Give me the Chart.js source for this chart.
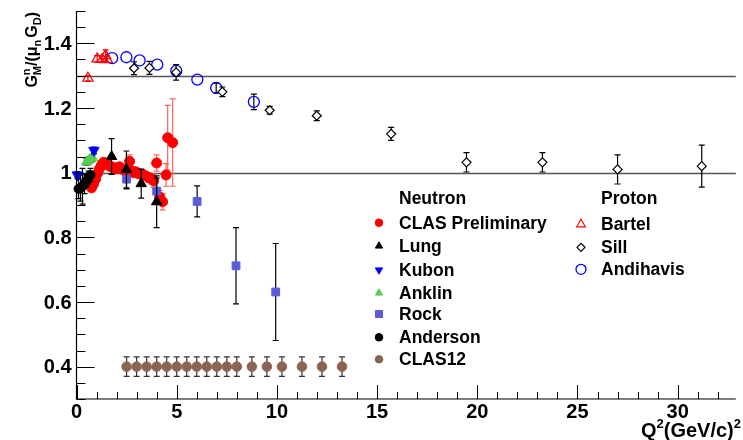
<!DOCTYPE html>
<html><head><meta charset="utf-8">
<script src="https://cdn.jsdelivr.net/npm/chart.js@4.4.0/dist/chart.umd.min.js"></script>
<style>html,body{margin:0;padding:0;background:#fff;}#c{display:block;}</style>
</head><body>
<canvas id="c" width="743" height="440"></canvas>
<script>
// ---------- data ----------
const clasPrelimQ2  = [0.75,0.85,0.95,1.05,1.15,1.25,1.35,1.45,1.55,1.65,1.75,1.85,1.95,2.05,2.15,2.25,2.35,2.45,2.6,2.65,2.75,2.85,2.95,3.05,3.15,3.3,3.45,3.6,3.75,3.85,4.0,4.15,4.3,4.47,4.55,4.8];
const clasPrelimR   = [0.953,0.965,0.98,0.998,1.012,1.024,1.032,1.03,1.025,1.02,1.018,1.014,1.012,1.016,1.018,1.012,1.008,1.004,1.0,1.035,1.005,1.0,1.003,0.998,0.996,0.995,0.99,0.985,0.98,0.975,1.03,0.925,0.91,0.993,1.108,1.093];
const clasPrelimErr = [0.01,0.01,0.01,0.01,0.01,0.01,0.01,0.01,0.01,0.01,0.01,0.01,0.01,0.01,0.01,0.01,0.01,0.01,0.01,0.02,0.01,0.01,0.01,0.01,0.01,0.012,0.012,0.015,0.015,0.02,0.025,0.02,0.025,0.035,0.1,0.135];

const lungQ2  = [1.75,2.49,3.23,4.0];
const lungR   = [1.05,1.01,0.966,0.91];
const lungErr = [0.055,0.057,0.045,0.08];

const kubonQ2  = [0.04,0.87];
const kubonR   = [0.993,1.069];
const kubonErr = [0.01,0.01];

const anklinQ2  = [0.5,0.65,0.8];
const anklinR   = [1.033,1.04,1.046];
const anklinErr = [0.01,0.01,0.01];

const rockQ2  = [2.5,4.0,6.02,7.96,9.94];
const rockR   = [0.98,0.943,0.911,0.712,0.631];
const rockErr = [0.03,0.04,0.048,0.118,0.15];

const andersonQ2  = [0.1,0.2,0.3,0.4,0.5,0.6,0.7];
const andersonR   = [0.95,0.952,0.958,0.965,0.975,0.985,0.993];
const andersonErr = [0.03,0.04,0.055,0.03,0.02,0.02,0.02];

const clas12Q2  = [2.5,3.0,3.5,4.0,4.5,5.0,5.5,6.0,6.5,7.0,7.5,8.0,8.75,9.5,10.25,11.25,12.25,13.25];
const clas12R   = [0.4,0.4,0.4,0.4,0.4,0.4,0.4,0.4,0.4,0.4,0.4,0.4,0.4,0.4,0.4,0.4,0.4,0.4];
const clas12Err = [0.03,0.03,0.03,0.03,0.03,0.03,0.03,0.03,0.03,0.03,0.03,0.03,0.03,0.03,0.03,0.03,0.03,0.03];

const bartelQ2  = [0.57,1.03,1.28,1.45,1.53];
const bartelR   = [1.292,1.352,1.35,1.362,1.35];
const bartelErr = [0.008,0.01,0.01,0.018,0.01];

const sillQ2  = [2.87,3.64,4.97,7.28,9.64,11.99,15.7,19.46,23.25,27.0,31.2];
const sillR   = [1.323,1.324,1.31,1.25,1.193,1.176,1.12,1.032,1.032,1.01,1.02];
const sillErr = [0.02,0.02,0.024,0.015,0.012,0.015,0.02,0.03,0.03,0.045,0.065];

const andihavisQ2  = [1.78,2.49,3.15,4.03,4.98,6.03,6.97,8.85];
const andihavisR   = [1.354,1.357,1.347,1.334,1.315,1.288,1.262,1.219];
const andihavisErr = [0,0,0,0,0,0,0.015,0.024];

const xTickValues = [0,5,10,15,20,25,30];
const xTickLabels = ['0','5','10','15','20','25','30'];
const yTickValues = [0.4,0.6,0.8,1.0,1.2,1.4];
const yTickLabels = ['0.4','0.6','0.8','1','1.2','1.4'];
const refLines = [1.0, 1.3];
const neutronHeader = "Neutron";
const protonHeader = "Proton";

// ---------- helpers ----------
const pts = (xs, ys) => xs.map((x, i) => ({x: x, y: ys[i]}));
const FONT = "'Liberation Sans', Arial, Helvetica, sans-serif";

function ds(label, group, xs, ys, errs, o) {
  return Object.assign({
    label: label, group: group, data: pts(xs, ys), errs: errs,
    showLine: false, borderWidth: 1, pointBorderWidth: 1, pointHoverRadius: 0,
    errColor: '#000', clip: false
  }, o);
}

const datasets = [
  ds('CLAS Preliminary','n', clasPrelimQ2, clasPrelimR, clasPrelimErr,
     {pointStyle:'circle', pointRadius:5, backgroundColor:'#ff0000', borderColor:'#ff0000', errColor:'#ff6262', order:6, legR:3.8}),
  ds('Lung','n', lungQ2, lungR, lungErr,
     {pointStyle:'triangle', pointRadius:6, backgroundColor:'#000', borderColor:'#000', order:1, legR:4.2}),
  ds('Kubon','n', kubonQ2, kubonR, kubonErr,
     {pointStyle:'triangle', rotation:180, pointRotation:180, pointRadius:6, backgroundColor:'#0000ff', borderColor:'#0000ff', order:3, legR:4.2}),
  ds('Anklin','n', anklinQ2, anklinR, anklinErr,
     {pointStyle:'triangle', pointRadius:6, backgroundColor:'#55cc55', borderColor:'#55cc55', order:4, legR:4.2}),
  ds('Rock','n', rockQ2, rockR, rockErr,
     {pointStyle:'rect', pointRadius:5.5, backgroundColor:'#5b5bdc', borderColor:'#5b5bdc', order:2, legR:5}),
  ds('Anderson','n', andersonQ2, andersonR, andersonErr,
     {pointStyle:'circle', pointRadius:4.5, backgroundColor:'#000', borderColor:'#000', order:5, legR:3.8}),
  ds('CLAS12','n', clas12Q2, clas12R, clas12Err,
     {pointStyle:'circle', pointRadius:4.8, backgroundColor:'#8b6553', borderColor:'#8b6553', errColor:'#333', order:7, legR:3.8}),
  ds('Bartel','p', bartelQ2, bartelR, bartelErr,
     {pointStyle:'triangle', pointRadius:6, backgroundColor:'rgba(0,0,0,0)', borderColor:'#ff0000', pointBorderWidth:1.2, errColor:'#ff0000', order:8, legR:5}),
  ds('Sill','p', sillQ2, sillR, sillErr,
     {pointStyle:'rectRot', pointRadius:4.5, backgroundColor:'#fff', borderColor:'#000', pointBorderWidth:1.2, order:9, legR:4}),
  ds('Andihavis','p', andihavisQ2, andihavisR, andihavisErr,
     {pointStyle:'circle', pointRadius:5.5, backgroundColor:'rgba(0,0,0,0)', borderColor:'#0000ff', pointBorderWidth:1.3, order:10, legR:5})
];

// ---------- plugins ----------
const framePlugin = {
  id: 'frame',
  beforeDatasetsDraw(chart) {
    const ctx = chart.ctx, a = chart.chartArea, ys = chart.scales.y;
    ctx.save();
    ctx.strokeStyle = '#555'; ctx.lineWidth = 1.5;
    refLines.forEach(v => {
      const p = Math.round(ys.getPixelForValue(v)) + 0.5;
      ctx.beginPath(); ctx.moveTo(a.left, p); ctx.lineTo(a.right, p); ctx.stroke();
    });
    ctx.restore();
  },
  beforeDatasetDraw(chart, args) {
    const d = chart.data.datasets[args.index];
    if (!d.errs) return;
    const ctx = chart.ctx, xs = chart.scales.x, ys = chart.scales.y;
    ctx.save();
    ctx.strokeStyle = d.errColor; ctx.lineWidth = 1.2;
    d.data.forEach((p, i) => {
      const e = d.errs[i];
      if (!e) return;
      const px = xs.getPixelForValue(p.x);
      const y1 = ys.getPixelForValue(p.y + e), y2 = ys.getPixelForValue(p.y - e);
      ctx.beginPath();
      ctx.moveTo(px, y1); ctx.lineTo(px, y2);
      ctx.moveTo(px - 3, y1); ctx.lineTo(px + 3, y1);
      ctx.moveTo(px - 3, y2); ctx.lineTo(px + 3, y2);
      ctx.stroke();
    });
    ctx.restore();
  },
  afterDraw(chart) {
    const ctx = chart.ctx, a = chart.chartArea, xs = chart.scales.x, ys = chart.scales.y;
    ctx.save();
    // axes
    ctx.strokeStyle = '#000'; ctx.lineWidth = 1.2;
    ctx.beginPath();
    ctx.moveTo(a.left, a.top); ctx.lineTo(a.left, a.bottom); ctx.lineTo(a.right, a.bottom);
    ctx.stroke();
    ctx.lineWidth = 1;
    // y ticks
    for (let k = 0; k <= 24; k++) {
      const v = 0.3 + k * 0.05;
      const p = Math.round(ys.getPixelForValue(v)) + 0.5;
      const major = yTickValues.some(t => Math.abs(t - v) < 1e-6);
      ctx.beginPath(); ctx.moveTo(a.left, p); ctx.lineTo(a.left + (major ? 18 : 9), p); ctx.stroke();
    }
    // x ticks
    for (let k = 0; k <= 32; k++) {
      const p = Math.round(xs.getPixelForValue(k)) + 0.5;
      const major = k % 5 === 0;
      ctx.beginPath(); ctx.moveTo(p, a.bottom); ctx.lineTo(p, a.bottom - (major ? 14 : 7)); ctx.stroke();
    }
    // tick labels
    ctx.fillStyle = '#000';
    ctx.font = 'bold 20px ' + FONT;
    ctx.textAlign = 'right'; ctx.textBaseline = 'middle';
    yTickValues.forEach((v, i) => ctx.fillText(yTickLabels[i], a.left - 5, ys.getPixelForValue(v) + 1));
    ctx.textAlign = 'center';
    xTickValues.forEach((v, i) => ctx.fillText(xTickLabels[i], xs.getPixelForValue(v), a.bottom + 13));
    ctx.textAlign = 'left';

    // axis titles
    ctx.textBaseline = 'alphabetic';
    function runsWidth(runs) {
      let w = 0;
      runs.forEach(r => {
        if (r.stack) {
          ctx.font = r.f;
          w += Math.max(ctx.measureText(r.stack[0]).width, ctx.measureText(r.stack[1]).width);
        } else { ctx.font = r.f; w += ctx.measureText(r.t).width + (r.gap || 0); }
      });
      return w;
    }
    function drawRuns(runs, x0, y0) {
      let x = x0;
      runs.forEach(r => {
        if (r.stack) {
          ctx.font = r.f;
          ctx.fillText(r.stack[0], x, y0 - 7);
          ctx.fillText(r.stack[1], x, y0 + 4);
          x += Math.max(ctx.measureText(r.stack[0]).width, ctx.measureText(r.stack[1]).width);
        } else {
          ctx.font = r.f; ctx.fillText(r.t, x, y0 + (r.dy || 0));
          x += ctx.measureText(r.t).width + (r.gap || 0);
        }
      });
    }
    const big = 'bold 16px ' + FONT, small = 'bold 11px ' + FONT;
    const yTitle = [
      {t:'G', f:big}, {stack:['n','M'], f:small}, {t:'/(', f:big}, {t:'\u03bc', f:big},
      {t:'n', f:small, dy:4, gap:2}, {t:'G', f:big}, {t:'D', f:small, dy:4}, {t:')', f:big}
    ];
    const wy = runsWidth(yTitle);
    ctx.save();
    ctx.translate(37, 12 + wy);
    ctx.rotate(-Math.PI / 2);
    drawRuns(yTitle, 0, 0);
    ctx.restore();
    const xbig = 'bold 20px ' + FONT, xsmall = 'bold 13px ' + FONT;
    const xTitle = [
      {t:'Q', f:xbig}, {t:'2', f:xsmall, dy:-9}, {t:'(GeV/c)', f:xbig}, {t:'2', f:xsmall, dy:-9}
    ];
    const wx = runsWidth(xTitle);
    drawRuns(xTitle, 741 - wx, 437);

    // legend
    const lf = 'bold 17.5px ' + FONT;
    ctx.font = lf; ctx.textBaseline = 'middle'; ctx.textAlign = 'left';
    ctx.fillText(neutronHeader, 399, 199.5);
    ctx.fillText(protonHeader, 601, 199.5);
    const nRows = [222.7, 246, 270, 293, 314, 337.3, 359.3];
    const pRows = [224.3, 247.3, 269.3];
    let ni = 0, pi = 0;
    chart.data.datasets.forEach(d => {
      let mx, ty, tx;
      if (d.group === 'n') { mx = 379; tx = 399; ty = nRows[ni++]; }
      else { mx = 581; tx = 601; ty = pRows[pi++]; }
      ctx.save();
      ctx.fillStyle = d.backgroundColor; ctx.strokeStyle = d.borderColor;
      ctx.lineWidth = d.pointBorderWidth || 1;
      Chart.helpers.drawPoint(ctx, {pointStyle: d.pointStyle, radius: d.legR, rotation: d.pointRotation || 0, borderWidth: d.pointBorderWidth || 1}, mx, ty);
      ctx.restore();
      ctx.font = lf; ctx.fillStyle = '#000'; ctx.textBaseline = 'middle';
      ctx.fillText(d.label, tx, ty + 1);
    });
    ctx.restore();
  }
};

new Chart(document.getElementById('c'), {
  type: 'scatter',
  data: { datasets: datasets },
  options: {
    responsive: false, animation: false, devicePixelRatio: 1,
    layout: { padding: { left: 0, top: 11, right: 3, bottom: 0 } },
    plugins: { legend: { display: false }, tooltip: { enabled: false } },
    elements: { point: { hoverRadius: 0 } },
    scales: {
      x: {
        type: 'linear', min: 0, max: 32.9,
        grid: { display: false, drawTicks: false }, border: { display: false },
        afterBuildTicks: s => { s.ticks = xTickValues.map(v => ({value: v})); },
        afterFit: s => { s.height = 41; },
        ticks: { display: false }
      },
      y: {
        type: 'linear', min: 0.3, max: 1.5,
        grid: { display: false, drawTicks: false }, border: { display: false },
        afterBuildTicks: s => { s.ticks = yTickValues.map(v => ({value: v})); },
        afterFit: s => { s.width = 76.5; },
        ticks: { display: false }
      }
    }
  },
  plugins: [framePlugin]
});
</script>
</body></html>
